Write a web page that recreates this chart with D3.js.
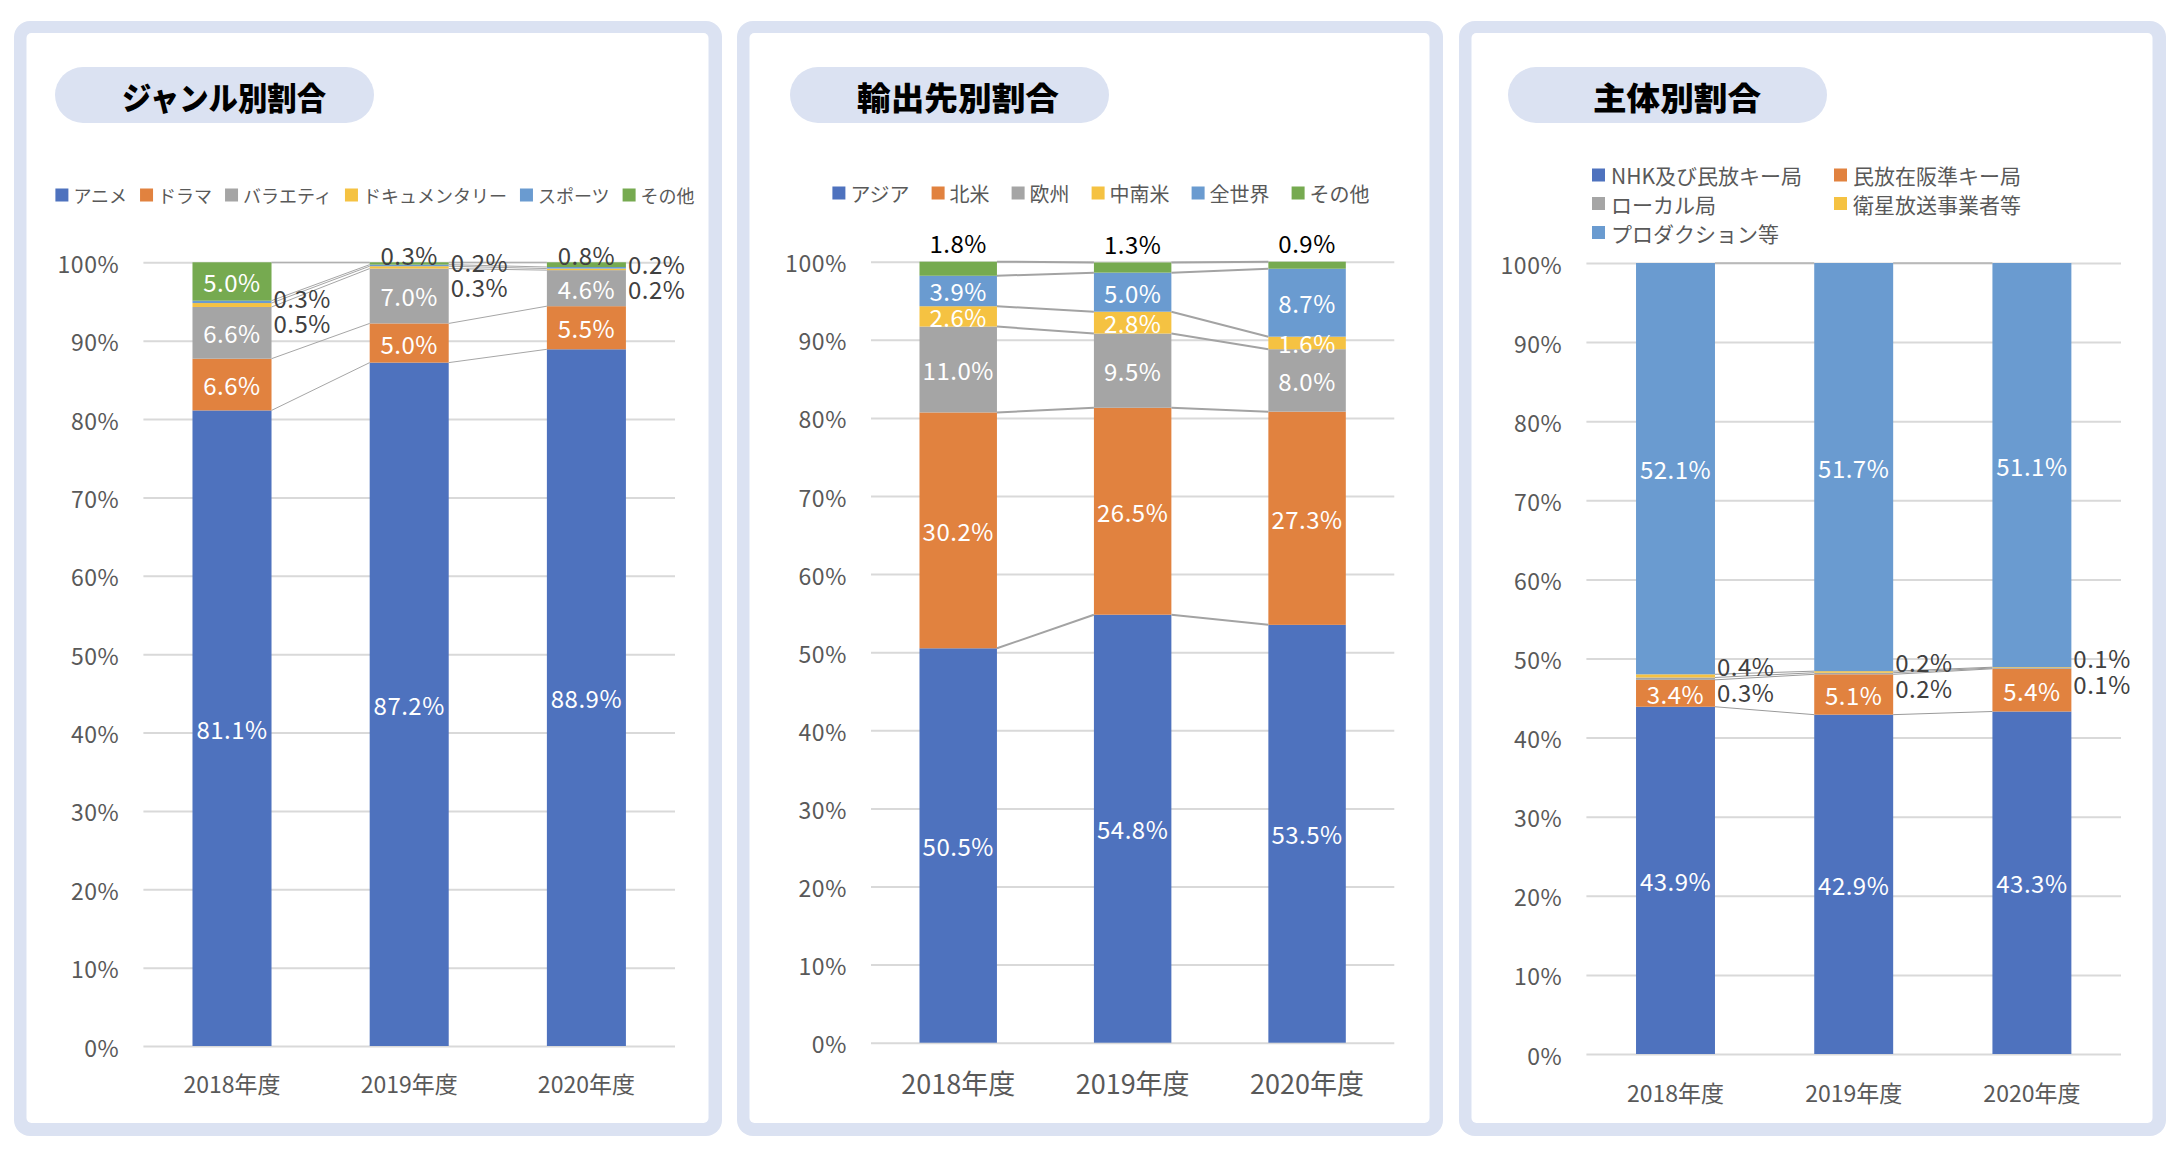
<!DOCTYPE html>
<html><head><meta charset="utf-8">
<script src="https://cdn.jsdelivr.net/npm/d3@7"></script>
<style>
body{margin:0;background:#fff}
svg{display:block}
text{font-family:"Noto Sans CJK JP","Noto Sans",sans-serif}
</style>
</head><body>
<svg id="c" width="2180" height="1150"></svg>
<script>
// ---------- DATA ----------
const years = ["2018年度", "2019年度", "2020年度"];
const yTicks = [0, 10, 20, 30, 40, 50, 60, 70, 80, 90, 100];
const titles = ["ジャンル別割合", "輸出先別割合", "主体別割合"];

const genreSeries = ["アニメ", "ドラマ", "バラエティ", "ドキュメンタリー", "スポーツ", "その他"];
const genreValues = [
  [81.1, 87.2, 88.9],
  [6.6, 5.0, 5.5],
  [6.6, 7.0, 4.6],
  [0.5, 0.3, 0.2],
  [0.3, 0.2, 0.2],
  [5.0, 0.3, 0.8]
];

const destSeries = ["アジア", "北米", "欧州", "中南米", "全世界", "その他"];
const destValues = [
  [50.5, 54.8, 53.5],
  [30.2, 26.5, 27.3],
  [11.0, 9.5, 8.0],
  [2.6, 2.8, 1.6],
  [3.9, 5.0, 8.7],
  [1.8, 1.3, 0.9]
];

const entitySeries = ["NHK及び民放キー局", "民放在阪準キー局", "ローカル局", "衛星放送事業者等", "プロダクション等"];
const entityValues = [
  [43.9, 42.9, 43.3],
  [3.4, 5.1, 5.4],
  [0.3, 0.2, 0.1],
  [0.4, 0.2, 0.1],
  [52.1, 51.7, 51.1]
];

// ---------- STYLE ----------
const C = {blue:"#4e72be", orange:"#e1823f", gray:"#a5a5a5", yellow:"#f5c242", lblue:"#6a9bd0", green:"#76aa50"};
const genreColors = [C.blue, C.orange, C.gray, C.yellow, C.lblue, C.green];
const destColors = [C.blue, C.orange, C.gray, C.yellow, C.lblue, C.green];
const entityColors = [C.blue, C.orange, C.gray, C.yellow, C.lblue];
const frameColor = "#dbe2f2";

const panels = [
  {title: titles[0], series: genreSeries, values: genreValues, colors: genreColors,
   ox: 14, ow: 708, pillX: 55, titleCx: 224, titleLen: 204,
   px0: 143.4, px1: 675, py0: 1046, py100: 262.3, pad: 0.554,
   xLabY: 37, xLabFont: 23,
   legend: {type: "row", cx: 375, y: 195, font: 18, gap: 13},
   lineW: 1, lineC: "#a6a6a6",
   topAboveAlways: false, aboveDy: 8, aboveColor: "#404040",
   rightDy: -4, rightGap: 25, rightColor: "#404040"},
  {title: titles[1], series: destSeries, values: destValues, colors: destColors,
   ox: 737, ow: 706, pillX: 790, titleCx: 958, titleLen: 202,
   px0: 871, px1: 1394.3, py0: 1042.7, py100: 261.7, pad: 0.556,
   xLabY: 40, xLabFont: 27,
   legend: {type: "row", cx: 1101, y: 193, font: 20, gap: 22},
   lineW: 2, lineC: "#a3a3a3",
   topAboveAlways: true, aboveDy: 19, aboveColor: "#000",
   rightDy: -3, rightGap: 25, rightColor: "#404040"},
  {title: titles[2], series: entitySeries, values: entityValues, colors: entityColors,
   ox: 1459, ow: 707, pillX: 1508, titleCx: 1677, titleLen: 168,
   px0: 1586.4, px1: 2121, py0: 1054, py100: 263, pad: 0.557,
   xLabY: 38, xLabFont: 23,
   legend: {type: "grid", cols: [1592, 1834], rows: [175, 203.5, 232.5], font: 21},
   lineW: 1, lineC: "#9a9a9a",
   topAboveAlways: false, aboveDy: 8, aboveColor: "#404040",
   rightDy: -10, rightGap: 26, rightColor: "#404040"}
];

const svg = d3.select("#c");
const fmt = v => d3.format(".1f")(v) + "%";

panels.forEach(drawPanel);

function drawPanel(p) {
  const g = svg.append("g");
  // frame
  g.append("rect").attr("x", p.ox).attr("y", 21).attr("width", p.ow).attr("height", 1115)
    .attr("rx", 16).attr("fill", frameColor);
  g.append("rect").attr("x", p.ox + 12.5).attr("y", 33).attr("width", p.ow - 26).attr("height", 1090)
    .attr("rx", 5).attr("fill", "#fff");
  // title pill
  g.append("rect").attr("x", p.pillX).attr("y", 67).attr("width", 319).attr("height", 56)
    .attr("rx", 28).attr("fill", frameColor);
  g.append("text").attr("x", p.titleCx).attr("y", 96).attr("text-anchor", "middle")
    .attr("dominant-baseline", "central").attr("font-size", 32).attr("font-weight", 900)
    .attr("fill", "#000").attr("textLength", p.titleLen).attr("lengthAdjust", "spacingAndGlyphs")
    .text(p.title);

  // scales
  const y = d3.scaleLinear().domain([0, 100]).range([p.py0, p.py100]);
  const x = d3.scaleBand().domain(years).range([p.px0, p.px1]).paddingInner(p.pad).paddingOuter(p.pad / 2);
  const bw = x.bandwidth();

  // y axis + gridlines
  const ya = g.append("g").attr("transform", `translate(${p.px0},0)`)
    .call(d3.axisLeft(y).tickValues(yTicks).tickSize(-(p.px1 - p.px0)).tickPadding(24).tickFormat(d => d + "%"));
  ya.select(".domain").remove();
  ya.selectAll("line").attr("stroke", "#d9d9d9").attr("stroke-width", 2);
  ya.selectAll("text").attr("fill", "#595959").attr("font-size", 23).attr("dy", null)
    .attr("letter-spacing", 0.6)
    .attr("dominant-baseline", "central").style("font-family", '"Noto Sans CJK JP"');

  // x axis
  const xa = g.append("g").attr("transform", `translate(0,${p.py0})`)
    .call(d3.axisBottom(x).tickSize(0));
  xa.select(".domain").remove();
  xa.selectAll("text").attr("y", p.xLabY).attr("dy", null).attr("dominant-baseline", "central")
    .attr("fill", "#595959").attr("font-size", p.xLabFont).style("font-family", '"Noto Sans CJK JP"');

  // stack
  const keys = p.series.map((s, k) => k);
  const rows = years.map((yr, i) => {
    const r = {year: yr};
    keys.forEach(k => r[k] = p.values[k][i]);
    return r;
  });
  const stacked = d3.stack().keys(keys)(rows);
  const cl = v => Math.min(100, v);

  // bars
  stacked.forEach((layer, k) => {
    g.append("g").selectAll("rect").data(layer).join("rect")
      .attr("x", d => x(d.data.year))
      .attr("width", bw)
      .attr("y", d => y(cl(d[1])))
      .attr("height", d => Math.max(0, y(cl(d[0])) - y(cl(d[1]))))
      .attr("fill", p.colors[k]);
  });

  // series lines
  stacked.forEach((layer) => {
    for (let i = 0; i < layer.length - 1; i++) {
      const a = layer[i], b = layer[i + 1];
      g.append("line")
        .attr("x1", x(a.data.year) + bw).attr("y1", y(cl(a[1])))
        .attr("x2", x(b.data.year)).attr("y2", y(cl(b[1])))
        .attr("stroke", p.lineC).attr("stroke-width", p.lineW);
    }
  });

  // data labels
  const lg = g.append("g").attr("font-size", 24).attr("letter-spacing", 0.5);
  const last = keys.length - 1;
  years.forEach((yr, i) => {
    const cx = x(yr) + bw / 2;
    const smalls = [];
    stacked.forEach((layer, k) => {
      const d = layer[i];
      const v = p.values[k][i];
      const cy = (y(cl(d[0])) + y(cl(d[1]))) / 2;
      if (k === last && (p.topAboveAlways || v < 1)) {
        lg.append("text").attr("x", cx).attr("y", y(cl(d[1])) - p.aboveDy)
          .attr("text-anchor", "middle").attr("dominant-baseline", "central")
          .attr("fill", p.aboveColor).text(fmt(v));
      } else if (v < 1) {
        smalls.push({k, v, cy});
      } else {
        lg.append("text").attr("x", cx).attr("y", cy)
          .attr("text-anchor", "middle").attr("dominant-baseline", "central")
          .attr("fill", "#fff").text(fmt(v));
      }
    });
    smalls.sort((a, b) => b.k - a.k);
    if (smalls.length) {
      const y0 = smalls[0].cy + p.rightDy;
      smalls.forEach((s, j) => {
        lg.append("text").attr("x", x(yr) + bw + 2).attr("y", y0 + j * p.rightGap)
          .attr("text-anchor", "start").attr("dominant-baseline", "central")
          .attr("fill", p.rightColor).text(fmt(s.v));
      });
    }
  });

  // legend
  const L = p.legend;
  if (L.type === "row") {
    const lgd = g.append("g");
    let cur = 0;
    p.series.forEach((s, k) => {
      lgd.append("rect").attr("x", cur).attr("y", -6.5).attr("width", 13).attr("height", 13).attr("fill", p.colors[k]);
      const t = lgd.append("text").attr("x", cur + 18).attr("y", 0).attr("dominant-baseline", "central")
        .attr("font-size", L.font).attr("fill", "#595959").text(s);
      cur += 18 + t.node().getComputedTextLength() + L.gap;
    });
    const total = cur - L.gap;
    lgd.attr("transform", `translate(${L.cx - total / 2},${L.y})`);
  } else {
    p.series.forEach((s, k) => {
      const col = L.cols[k % 2], row = L.rows[Math.floor(k / 2)];
      g.append("rect").attr("x", col).attr("y", row - 6.5).attr("width", 13).attr("height", 13).attr("fill", p.colors[k]);
      g.append("text").attr("x", col + 19).attr("y", row).attr("dominant-baseline", "central")
        .attr("font-size", L.font).attr("fill", "#595959").text(s);
    });
  }
}
</script>
</body></html>
